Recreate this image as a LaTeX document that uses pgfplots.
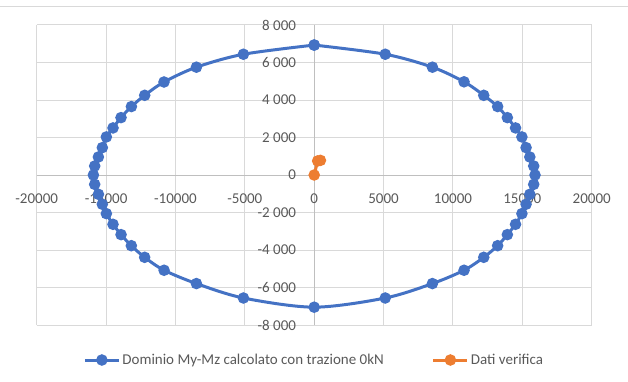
\documentclass[border=0pt]{standalone}
\usepackage{pgfplots}
\pgfplotsset{compat=1.18}
\usepackage{fontspec}
\setmainfont{Carlito}
\definecolor{cblue}{HTML}{4472C4}
\definecolor{corange}{HTML}{ED7D31}
\definecolor{gridc}{HTML}{D9D9D9}
\definecolor{txt}{HTML}{595959}
\definecolor{axc}{HTML}{BFBFBF}
\begin{document}
\fontsize{15}{18}\selectfont
\begin{tikzpicture}[x=1pt,y=1pt]
\path[use as bounding box] (0,0) rectangle (628,381);
\draw[gridc, line width=1pt] (0,374) -- (628,374);
\begin{axis}[
  at={(36.7pt,56pt)}, anchor=south west,
  scale only axis, width=555pt, height=300pt,
  xmin=-20000, xmax=20000, ymin=-8000, ymax=8000,
  xtick={-20000,-15000,...,20000}, ytick={-8000,-6000,...,8000},
  scaled ticks=false,
  axis lines=middle,
  axis line style={-, draw=axc, line width=1pt},
  grid=major, major grid style={draw=gridc, line width=1pt},
  major tick length=0pt,
  hide obscured x ticks=false, hide obscured y ticks=false,
  /pgf/number format/assume math mode=true,
  tick label style={font=\fontsize{15}{18}\selectfont, text=txt},
  xticklabel style={/pgf/number format/1000 sep={}, anchor=north, yshift=-14pt},
  yticklabel style={/pgf/number format/1000 sep={\ }, anchor=east, xshift=-13pt},
  clip=false,
  legend columns=2,
  legend style={at={(0.5,-0.1167)}, anchor=center, draw=none, fill=none,
    font=\fontsize{15}{18}\selectfont, text=txt,
    nodes={inner xsep=2pt},
    /tikz/every even column/.append style={column sep=46pt}},
  legend image code/.code={\draw[mark repeat=2, mark phase=2] plot coordinates {(0pt,0pt)(17pt,0pt)(34pt,0pt)};},
]
\addplot[color=cblue, line width=3pt, smooth, mark=*, mark size=4.2pt, mark options={fill=cblue, draw=none}] coordinates {
(0,6930) (5120,6440) (8520,5750) (10800,4970) (12220,4250) (13220,3650) (13920,3060) (14510,2510) (14970,2030) (15270,1460) (15540,960) (15820,480) (15915,0)
(15820,-500) (15540,-1030) (15270,-1560) (14970,-2060) (14510,-2630) (13920,-3180) (13220,-3770) (12220,-4390) (10800,-5080) (8520,-5790) (5120,-6560) (0,-7050)
(-5100,-6560) (-8490,-5790) (-10820,-5080) (-12220,-4390) (-13180,-3770) (-13920,-3180) (-14500,-2630) (-14980,-2060) (-15270,-1560) (-15550,-1030) (-15820,-500) (-15915,0)
(-15820,480) (-15555,960) (-15270,1460) (-14980,2030) (-14500,2510) (-13924,3060) (-13175,3650) (-12216,4250) (-10825,4960) (-8490,5750) (-5100,6440) (0,6930)
};
\addlegendentry{Dominio My-Mz calcolato con trazione 0kN}
\addplot[color=corange, line width=3pt, mark=*, mark size=4.2pt, mark options={fill=corange, draw=none}] coordinates {
(0,0) (250,750) (450,780)
};
\addlegendentry{Dati verifica}
\end{axis}
\end{tikzpicture}
\end{document}
